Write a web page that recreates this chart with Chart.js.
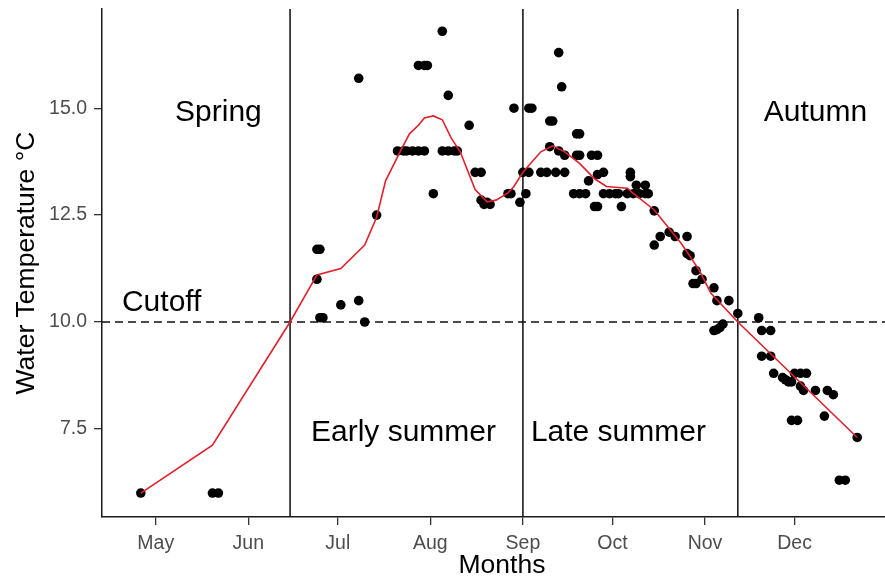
<!DOCTYPE html>
<html>
<head>
<meta charset="utf-8">
<title>Water temperature by month</title>
<script src="https://cdn.jsdelivr.net/npm/chart.js@4.4.1/dist/chart.umd.min.js"></script>
<style>
  html, body { margin: 0; padding: 0; background: #ffffff; overflow: hidden; }
  /* the plot panel runs on a little past the right edge of the view */
  #wrap { width: 885px; height: 586px; overflow: hidden; }
  #chart { display: block; }
</style>
</head>
<body>
<div id="wrap"><canvas id="chart" width="902" height="586"></canvas></div>
<script>
// Individual water temperature readings (°C), dated MM-DD
const sampleDates = [
  '04-26', '05-20', '05-22',
  '06-24', '06-25', '06-24', '06-25', '06-26', '07-02', '07-08', '07-10', '07-08', '07-14',
  '07-21', '07-23', '07-24', '07-26', '07-28', '07-30', '07-28', '07-30', '07-31',
  '08-02', '08-05', '08-07', '08-05', '08-07', '08-09', '08-10', '08-14', '08-16', '08-18',
  '08-18', '08-19', '08-20', '08-21', '08-27', '08-28', '08-29', '08-31',
  '09-01', '09-02', '09-03', '09-03', '09-04', '09-07', '09-09', '09-12', '09-15',
  '09-10', '09-11', '09-10', '09-13', '09-15', '09-13', '09-14', '09-19', '09-20',
  '09-19', '09-20', '09-18', '09-20', '09-22', '09-24', '09-26', '09-25', '09-26',
  '09-23', '09-26', '09-28', '09-28', '09-30', '10-02', '10-03', '10-04', '10-07', '10-07',
  '10-06', '10-08', '10-10', '10-12', '10-13', '10-09', '10-12', '10-15', '10-15',
  '10-17', '10-20', '10-22', '10-26', '10-26', '10-27', '10-29', '10-31', '10-28', '10-29',
  '11-04', '11-05', '11-09', '11-12', '11-04', '11-05', '11-06', '11-07',
  '11-19', '11-20', '11-23', '11-20', '11-23', '11-24', '11-27', '11-28', '11-29', '11-30',
  '12-01', '12-03', '12-05', '12-03', '12-04', '12-08', '12-12', '12-14',
  '11-30', '12-02', '12-11', '12-22', '12-16', '12-18'
];
const sampleTemps = [
  6.0, 6.0, 6.0,
  11.7, 11.7, 11.0, 10.1, 10.1, 10.4, 10.5, 10.0, 15.7, 12.5,
  14.0, 14.0, 14.0, 14.0, 14.0, 14.0, 16.0, 16.0, 16.0,
  13.0, 16.8, 15.3, 14.0, 14.0, 14.0, 14.0, 14.6, 13.5, 13.5,
  12.85, 12.75, 12.8, 12.75, 13.0, 13.0, 15.0, 12.8,
  13.5, 13.0, 13.5, 15.0, 15.0, 13.5, 13.5, 13.5, 13.5,
  14.7, 14.7, 14.1, 14.0, 13.9, 16.3, 15.5, 14.4, 14.4,
  13.9, 13.9, 13.0, 13.0, 13.0, 13.9, 13.9, 12.7, 12.7,
  13.3, 13.45, 13.5, 13.0, 13.0, 13.0, 13.0, 12.7, 13.5, 13.4,
  13.0, 13.0, 13.0, 13.0, 13.0, 13.2, 13.2, 12.6, 11.8,
  12.0, 12.1, 12.0, 12.0, 11.6, 11.55, 11.2, 11.0, 10.9, 10.9,
  10.8, 10.5, 10.5, 10.2, 9.8, 9.82, 9.87, 9.95,
  10.1, 9.8, 9.8, 9.2, 9.2, 8.8, 8.7, 8.65, 8.6, 8.6,
  8.8, 8.8, 8.8, 8.5, 8.4, 8.4, 8.4, 8.3,
  7.7, 7.7, 7.8, 7.3, 6.3, 6.3
];

// Smoothed seasonal trend (°C)
const trendDates = [
  '04-26', '05-20', '06-15', '06-24', '07-02', '07-10', '07-14', '07-17', '07-22', '07-25',
  '07-28', '07-30', '08-02', '08-05', '08-08', '08-11', '08-16', '08-20', '08-23', '08-27',
  '08-29', '09-01', '09-07', '09-11', '09-15', '09-20', '09-25', '09-29', '10-06', '10-08',
  '10-15', '10-24', '10-30', '11-03', '11-12', '12-22'
];
const trendTemps = [
  6.0, 7.12, 10.0, 11.1, 11.25, 11.8, 12.45, 13.3, 14.0, 14.4,
  14.6, 14.77, 14.82, 14.73, 14.3, 13.98, 13.1, 12.81, 12.85, 13.02,
  13.17, 13.5, 13.98, 14.12, 13.98, 13.71, 13.35, 13.17, 13.13, 13.01,
  12.62, 11.84, 11.22, 10.67, 10.0, 7.3
];

// Axis ticks
const monthTickDates = ['05-01', '06-01', '07-01', '08-01', '09-01', '10-01', '11-01', '12-01'];
const monthTickLabels = ['May', 'Jun', 'Jul', 'Aug', 'Sep', 'Oct', 'Nov', 'Dec'];
const tempTicks = [7.5, 10.0, 12.5, 15.0];

// Cutoff temperature and the dates splitting the seasons
const cutoffTemp = 10.0;
const seasonBreaks = ['06-15', '09-01', '11-12'];
const seasonNames = ['Spring', 'Early summer', 'Late summer', 'Autumn'];

// Day of year (0 = 1 Jan) for an MM-DD string
function dayOfYear(md) {
  const [m, d] = md.split('-').map(Number);
  return (Date.UTC(2001, m - 1, d) - Date.UTC(2001, 0, 1)) / 864e5;
}

const FONT = '"Liberation Sans", Arial, Helvetica, sans-serif';
// The time axis runs from mid April on into the first days of January
const xMin = dayOfYear('04-13');
const xMax = dayOfYear('12-31') + 6;
const yMin = 5.44;
const yMax = 17.32;

// Where each text annotation sits, in date / temperature units
const textAnchors = [
  { text: seasonNames[0], at: '05-22', temp: 14.69 },
  { text: seasonNames[1], at: '07-23', temp: 7.22 },
  { text: seasonNames[2], at: '10-03', temp: 7.22 },
  { text: seasonNames[3], at: '12-08', temp: 14.69 },
  { text: 'Cutoff', at: '05-03', temp: 10.26 }
];

const annotationText = {
  id: 'annotationText',
  afterDatasetsDraw(chart) {
    const { ctx, scales: { x, y } } = chart;
    ctx.save();
    ctx.font = '30px ' + FONT;
    ctx.fillStyle = '#000000';
    ctx.textAlign = 'center';
    ctx.textBaseline = 'alphabetic';
    textAnchors.forEach(a => {
      ctx.fillText(a.text, x.getPixelForValue(dayOfYear(a.at)), y.getPixelForValue(a.temp));
    });
    ctx.restore();
  }
};

const samplePoints = sampleDates.map((d, i) => ({ x: dayOfYear(d), y: sampleTemps[i] }));
const trendPoints = trendDates.map((d, i) => ({ x: dayOfYear(d), y: trendTemps[i] }));

const datasets = [
  {
    label: 'Trend',
    data: trendPoints,
    showLine: true,
    borderColor: '#e0202b',
    borderWidth: 1.6,
    pointRadius: 0,
    tension: 0,
    order: 0
  },
  {
    label: 'Readings',
    data: samplePoints,
    showLine: false,
    backgroundColor: '#000000',
    borderWidth: 0,
    pointRadius: 4.8,
    order: 1
  },
  {
    label: 'Cutoff',
    data: [{ x: xMin, y: cutoffTemp }, { x: xMax, y: cutoffTemp }],
    showLine: true,
    borderColor: '#111111',
    borderWidth: 1.4,
    borderDash: [8, 5],
    pointRadius: 0,
    order: 2
  }
].concat(seasonBreaks.map(b => ({
  label: 'Season break ' + b,
  data: [{ x: dayOfYear(b), y: yMin }, { x: dayOfYear(b), y: yMax }],
  showLine: true,
  borderColor: '#1a1a1a',
  borderWidth: 1.6,
  pointRadius: 0,
  order: 2
})));

const monthTickValues = monthTickDates.map(dayOfYear);

new Chart(document.getElementById('chart'), {
  type: 'scatter',
  data: { datasets },
  options: {
    responsive: false,
    animation: false,
    events: [],
    layout: { autoPadding: false, padding: { top: 9, left: 0, right: 0, bottom: 0 } },
    plugins: { legend: { display: false }, tooltip: { enabled: false } },
    scales: {
      x: {
        type: 'linear',
        min: xMin,
        max: xMax,
        afterBuildTicks: s => { s.ticks = monthTickValues.map(v => ({ value: v })); },
        afterFit: s => { s.height = 69; s.paddingLeft = 0; s.paddingRight = 0; },
        ticks: {
          autoSkip: false,
          maxRotation: 0,
          padding: 7,
          color: '#4d4d4d',
          font: { family: FONT, size: 19.5 },
          callback: v => monthTickLabels[monthTickValues.indexOf(v)]
        },
        grid: { display: true, drawOnChartArea: false, drawTicks: true, tickLength: 8, color: '#333333', lineWidth: 1.3 },
        border: { display: true, color: '#1a1a1a', width: 1.5 },
        title: {
          display: true,
          text: 'Months',
          color: '#000000',
          font: { family: FONT, size: 26.5 },
          padding: { top: 0, bottom: 4 }
        }
      },
      y: {
        type: 'linear',
        min: yMin,
        max: yMax,
        afterBuildTicks: s => { s.ticks = tempTicks.map(v => ({ value: v })); },
        afterFit: s => { s.width = 102; s.paddingTop = 0; s.paddingBottom = 0; },
        ticks: {
          padding: 7,
          color: '#4d4d4d',
          font: { family: FONT, size: 19.5 },
          callback: v => Number(v).toFixed(1)
        },
        grid: { display: true, drawOnChartArea: false, drawTicks: true, tickLength: 8, color: '#333333', lineWidth: 1.3 },
        border: { display: true, color: '#1a1a1a', width: 1.5 },
        title: {
          display: true,
          text: 'Water Temperature °C',
          color: '#000000',
          font: { family: FONT, size: 26.5 },
          padding: { top: 11, bottom: 0 }
        }
      }
    }
  },
  plugins: [annotationText]
});
</script>
</body>
</html>
